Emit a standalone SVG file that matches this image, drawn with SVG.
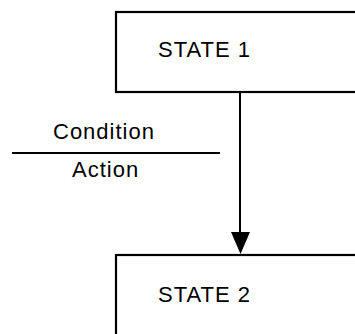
<svg xmlns="http://www.w3.org/2000/svg" width="355" height="334" viewBox="0 0 355 334">
<style>
.box{fill:#fff;stroke:#000;stroke-width:2.2}
.t{font-family:"Liberation Sans",Arial,sans-serif;font-size:22px;letter-spacing:1px;fill:#000}
.ln{stroke:#000;stroke-width:2;fill:none}
.head{fill:#000}
</style>
<rect width="355" height="334" fill="#fff"/>
<g id="state1">
<rect class="box" x="116" y="12" width="250" height="80"/>
<text class="t" x="158" y="57">STATE 1</text>
</g>
<g id="state2">
<rect class="box" x="116" y="255" width="250" height="100"/>
<text class="t" x="158" y="302">STATE 2</text>
</g>
<g id="connectors">
<line class="ln" x1="240" y1="92" x2="240" y2="235"/>
<path class="head" d="M231,232 L250,232 L240.5,254 Z"/>
</g>
<g id="label">
<text class="t" x="53" y="139">Condition</text>
<line class="ln" x1="12" y1="153" x2="220" y2="153"/>
<text class="t" x="72" y="177">Action</text>
</g>
</svg>
